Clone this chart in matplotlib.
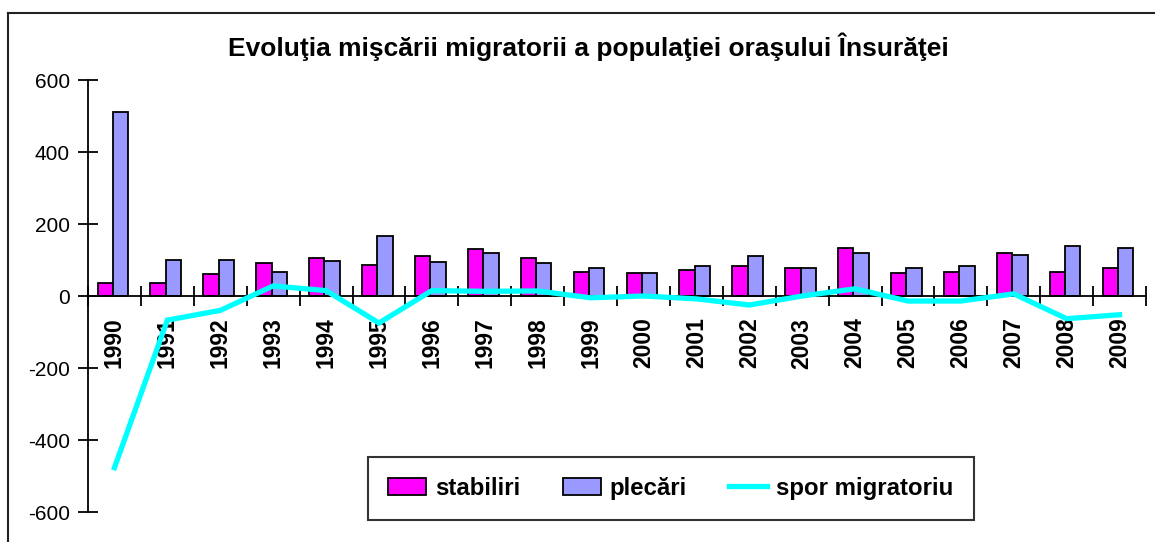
import numpy as np
import matplotlib
matplotlib.use("Agg")
import matplotlib.pyplot as plt
from matplotlib.patches import Patch
from matplotlib.lines import Line2D

plt.rcParams['font.family'] = ['Liberation Sans', 'DejaVu Sans']
plt.rcParams['axes.unicode_minus'] = False

# date
ani = ['1990', '1991', '1992', '1993', '1994', '1995', '1996', '1997', '1998', '1999',
       '2000', '2001', '2002', '2003', '2004', '2005', '2006', '2007', '2008', '2009']
stabiliri = [35, 35, 60, 92, 106, 87, 110, 130, 106, 68,
             64, 73, 82, 78, 133, 64, 68, 119, 68, 78]
plecari = [512, 100, 100, 68, 96, 167, 95, 119, 92, 79,
           64, 82, 110, 78, 119, 78, 82, 115, 138, 133]
spor = [-477, -67, -40, 28, 15, -75, 15, 13, 14, -5,
        0, -8, -25, 0, 20, -14, -14, 6, -63, -52]

roz = '#FF00FF'
lila = '#9999FF'
cyan = '#00FFFF'

fig = plt.figure(figsize=(11.55, 5.42), dpi=100)
ax = fig.add_axes([88/1155, 1 - 512/542, (1146 - 88)/1155, (512 - 80)/542])

x = np.arange(len(ani))
w = 0.29
ax.bar(x - w/2 - 0.03, stabiliri, w, color=roz, edgecolor='black', linewidth=1.3, zorder=2)
ax.bar(x + w/2 - 0.03, plecari, w, color=lila, edgecolor='black', linewidth=1.3, zorder=2)
ax.plot(x, spor, color=cyan, linewidth=3.8, zorder=4, solid_joinstyle='miter')

ax.set_xlim(-0.5, len(ani) - 0.5)
ax.set_ylim(-600, 600)
ax.set_yticks(np.arange(-600, 601, 200))

ax.spines['top'].set_visible(False)
ax.spines['right'].set_visible(False)
ax.spines['bottom'].set_position(('data', 0))
for s in ('left', 'bottom'):
    ax.spines[s].set_linewidth(1.3)
    ax.spines[s].set_zorder(3)

ax.set_xticks(x)
ax.set_xticklabels(ani, rotation=90, fontsize=16.5, fontweight='bold')
ax.set_xticks(np.arange(-0.5, len(ani), 1), minor=True)
ax.tick_params(axis='x', which='major', length=0, pad=15.5)
ax.tick_params(axis='x', which='minor', direction='inout', length=15, width=1.3)
ax.tick_params(axis='y', direction='inout', length=15, width=1.3, labelsize=15, pad=5.5)

fig.text(588/1155, 1 - 47/542, 'Evoluţia mişcării migratorii a populaţiei oraşului Însurăţei',
         ha='center', va='center', fontsize=19, fontweight='bold')

# chenarul graficului (doar stanga si sus sunt vizibile)
fig.add_artist(Line2D([8/1155, 8/1155], [0, 1 - 13/542], color='#222222', linewidth=1.5,
                      transform=fig.transFigure))
fig.add_artist(Line2D([8/1155, 1], [1 - 13/542, 1 - 13/542], color='#222222', linewidth=1.5,
                      transform=fig.transFigure))

handles = [Patch(facecolor=roz, edgecolor='black', linewidth=1.3),
           Patch(facecolor=lila, edgecolor='black', linewidth=1.3),
           Line2D([0], [0], color=cyan, linewidth=3.8)]
leg = fig.legend(handles, ['stabiliri', 'plecări', 'spor migratoriu'], ncol=3,
                 loc='center', bbox_to_anchor=(671/1155, 1 - 488.5/542),
                 prop={'size': 17.3, 'weight': 'bold'}, frameon=True, fancybox=False,
                 handlelength=1.58, handleheight=0.75, handletextpad=0.38, columnspacing=1.75,
                 borderpad=0.85, borderaxespad=0)
leg.get_frame().set_edgecolor('black')
leg.get_frame().set_linewidth(1.5)

fig.savefig('out.png', dpi=100)
